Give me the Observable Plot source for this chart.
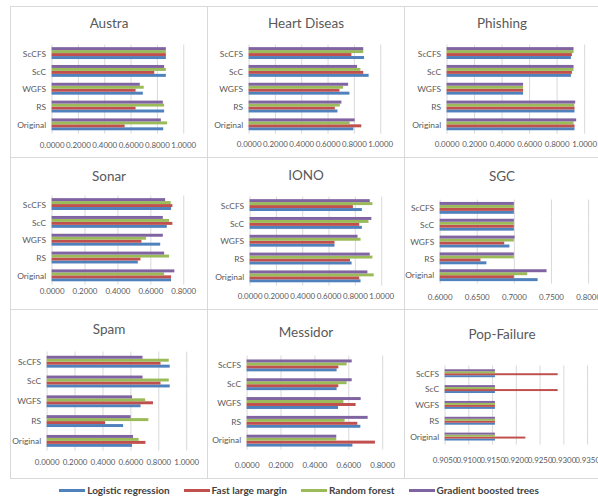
<!DOCTYPE html>
<html>
<head>
<meta charset="utf-8">
<script src="https://cdn.jsdelivr.net/npm/d3@7"></script>
<script src="https://cdn.jsdelivr.net/npm/@observablehq/plot@0.6"></script>
<style>
  html, body { margin: 0; padding: 0; background: #fff; }
  #root { position: relative; width: 598px; height: 499px; overflow: hidden; background: #fff; font-family: Lato, "Open Sans", sans-serif; }
  .panel { position: absolute; box-sizing: border-box; border: 1px solid #d9d9d9; background: #fff; }
  .panel svg { position: absolute; left: -1px; top: -1px; overflow: visible; }
  .title { position: absolute; left: 0; width: 100%; text-align: center; font-size: 13.5px; color: #595959; line-height: 1; transform: translateY(-50%); z-index: 2; }
  [aria-label^="x-axis"] text { font-family: Lato, sans-serif; font-size: 8px; }
  [aria-label^="fy-axis"] text { font-family: Lato, sans-serif; font-size: 8.5px; }
  #legend { position: absolute; left: 0; top: 484px; width: 598px; display: flex; justify-content: center; gap: 14px; font-weight: bold; font-size: 10px; color: #404040; }
  #legend .item { display: flex; align-items: center; gap: 2px; }
  #legend .sw { display: inline-block; width: 26px; height: 3px; }
</style>
</head>
<body>
<div id="root"></div>
<script>
// ---- data ----
const categories = ["ScCFS", "ScC", "WGFS", "RS", "Original"];
const series = ["Logistic regression", "Fast large margin", "Random forest", "Gradient boosted trees"];
const colors = ["#4F81BD", "#C0504D", "#9BBB59", "#8064A2"];

// values per category (ScCFS, ScC, WGFS, RS, Original), each [LR, FLM, RF, GBT]
const austra = [[0.868,0.868,0.868,0.868],[0.868,0.780,0.868,0.855],[0.693,0.638,0.700,0.670],[0.855,0.638,0.855,0.845],[0.848,0.555,0.878,0.830]];
const heart = [[0.877,0.781,0.871,0.871],[0.912,0.871,0.849,0.824],[0.766,0.690,0.718,0.756],[0.675,0.655,0.693,0.705],[0.796,0.856,0.768,0.806]];
const phishing = [[0.904,0.911,0.923,0.923],[0.904,0.911,0.923,0.923],[0.556,0.556,0.556,0.556],[0.930,0.930,0.928,0.935],[0.930,0.930,0.923,0.942]];
const sonar = [[0.726,0.734,0.724,0.690],[0.700,0.734,0.714,0.676],[0.660,0.546,0.574,0.676],[0.524,0.540,0.714,0.684],[0.726,0.726,0.684,0.746]];
const iono = [[0.853,0.785,0.933,0.913],[0.853,0.833,0.903,0.925],[0.645,0.645,0.843,0.820],[0.775,0.763,0.933,0.913],[0.843,0.833,0.943,0.895]];
const sgc = [[0.700,0.700,0.700,0.700],[0.700,0.700,0.700,0.700],[0.694,0.687,0.700,0.701],[0.663,0.655,0.700,0.700],[0.732,0.700,0.718,0.744]];
const spam = [[0.882,0.816,0.875,0.687],[0.882,0.816,0.875,0.687],[0.673,0.762,0.706,0.612],[0.548,0.419,0.729,0.602],[0.612,0.708,0.659,0.619]];
const messidor = [[0.531,0.541,0.590,0.620],[0.531,0.541,0.590,0.620],[0.539,0.643,0.571,0.673],[0.671,0.653,0.578,0.714],[0.624,0.757,0.529,0.529]];
const popFailure = [[0.9156,0.9288,0.9156,0.9156],[0.9156,0.9288,0.9156,0.9156],[0.9156,0.9156,0.9156,0.9156],[0.9156,0.9156,0.9156,0.9156],[0.9156,0.9220,0.9156,0.9156]];

const ticks01 = [0, 0.2, 0.4, 0.6, 0.8, 1.0];
const ticks08 = [0, 0.2, 0.4, 0.6, 0.8];
const ticksSGC = [0.60, 0.65, 0.70, 0.75, 0.80];
const ticksPop = [0.905, 0.910, 0.915, 0.920, 0.925, 0.930, 0.935];

// ---- layout (pixel geometry only) ----
const panels = [
  {title: "Austra", values: austra, ticks: ticks01, box: [10, 6, 198, 152], xL: 52, xR: 185, bT: 46, bB: 133, labelY: 147, titleY: 23, frac: 0.72},
  {title: "Heart Diseas", values: heart, ticks: ticks01, box: [207, 6, 198, 152], xL: 249, xR: 382, bT: 47, bB: 133, labelY: 146, titleY: 23, frac: 0.72},
  {title: "Phishing", values: phishing, ticks: ticks01, box: [404, 6, 196, 152], xL: 447, xR: 586, bT: 47, bB: 133, labelY: 146, titleY: 23, frac: 0.72},
  {title: "Sonar", values: sonar, ticks: ticks08, box: [10, 157, 198, 153], xL: 52, xR: 185, bT: 198, bB: 284, labelY: 293, titleY: 176, frac: 0.72},
  {title: "IONO", values: iono, ticks: ticks01, box: [207, 157, 198, 153], xL: 250, xR: 383, bT: 198, bB: 285, labelY: 298, titleY: 175, frac: 0.72},
  {title: "SGC", values: sgc, ticks: ticksSGC, box: [404, 157, 196, 153], xL: 440, xR: 590, bT: 202, bB: 283, labelY: 299, titleY: 176, frac: 0.72},
  {title: "Spam", values: spam, ticks: ticks01, box: [10, 309, 198, 170], xL: 47, xR: 188, bT: 353, bB: 451, labelY: 466, titleY: 329, frac: 0.69},
  {title: "Messidor", values: messidor, ticks: ticks08, box: [207, 309, 198, 170], xL: 247, xR: 384, bT: 358, bB: 448, labelY: 466, titleY: 332, frac: 0.69},
  {title: "Pop-Failure", values: popFailure, ticks: ticksPop, box: [404, 309, 196, 170], xL: 445, xR: 589, bT: 367, bB: 444, labelY: 463, titleY: 334, frac: 0.54}
];

const root = document.getElementById("root");
const fmt = d3.format(".4f");
const yOrder = series.slice().reverse(); // top bar is Gradient boosted trees

for (const p of panels) {
  const [px, py, pw, ph] = p.box;
  const rows = [];
  p.values.forEach((vals, ci) => vals.forEach((v, si) => rows.push({category: categories[ci], series: series[si], value: v})));

  const span = p.bB - p.bT;
  const band = span / (4 + p.frac);
  const half = (1 - p.frac) / 2 * band;
  const plotTop = p.bT - half, plotBottom = p.bB + half;
  const padOuter = (4 / p.frac - 4) / 2;

  const div = document.createElement("div");
  div.className = "panel";
  Object.assign(div.style, {left: px + "px", top: py + "px", width: pw + "px", height: ph + "px"});

  const t = document.createElement("div");
  t.className = "title";
  t.textContent = p.title;
  t.style.top = (p.titleY - py) + "px";
  div.appendChild(t);

  const chart = Plot.plot({
    width: pw,
    height: ph,
    marginLeft: p.xL - px,
    marginRight: px + pw - p.xR,
    marginTop: plotTop - py,
    marginBottom: py + ph - plotBottom,
    style: {background: "transparent", color: "#595959", fontFamily: "Lato, sans-serif", fontSize: "8.5px", overflow: "visible"},
    facet: {data: rows, y: "category"},
    fy: {domain: categories, padding: 0, axis: "left", label: null, tickSize: 0, tickPadding: 6},
    y: {domain: yOrder, paddingInner: 0, paddingOuter: padOuter, axis: null},
    x: {domain: [p.ticks[0], p.ticks[p.ticks.length - 1]], clamp: true, ticks: p.ticks, tickFormat: fmt, tickSize: 0, tickPadding: p.labelY - plotBottom - 3, label: null},
    color: {domain: series, range: colors},
    marks: [
      Plot.ruleX(p.ticks, {stroke: "#d9d9d9", strokeWidth: 1}),
      Plot.barX(rows, {x1: p.ticks[0], x2: "value", y: "series", fill: "series", inset: 0})
    ]
  });
  div.appendChild(chart);
  root.appendChild(div);
}

// legend
const legend = document.createElement("div");
legend.id = "legend";
series.forEach((s, i) => {
  const item = document.createElement("div");
  item.className = "item";
  const sw = document.createElement("span");
  sw.className = "sw";
  sw.style.background = colors[i];
  const tx = document.createElement("span");
  tx.textContent = s;
  item.appendChild(sw);
  item.appendChild(tx);
  legend.appendChild(item);
});
root.appendChild(legend);
</script>
</body>
</html>
